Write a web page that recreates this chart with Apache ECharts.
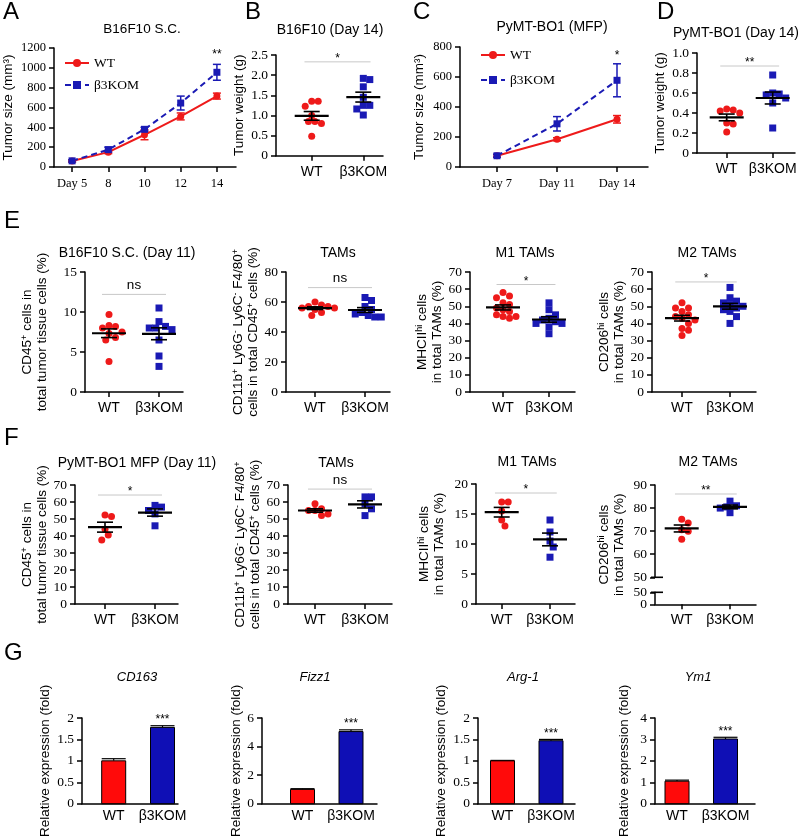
<!DOCTYPE html>
<html><head><meta charset="utf-8">
<script src="https://cdn.jsdelivr.net/npm/echarts@6/dist/echarts.min.js"></script>
<style>html,body{margin:0;padding:0;background:#fff}#c{width:800px;height:839px}</style>
</head><body><div id="c"></div>
<script>
// ================= DATA =================
const groups = ['WT', 'β3KOM'];
// A: B16F10 S.C. growth
const daysA = ['Day 5', '8', '10', '12', '14'];
const wtA = [60, 150, 325, 510, 715];
const wtAErr = [10, 15, 50, 35, 30];
const komA = [62, 175, 380, 645, 955];
const komAErr = [10, 25, 20, 70, 80];
const starA = ['**', 4, 1130];
// C: PyMT-BO1 (MFP) growth
const daysC = ['Day 7', 'Day 11', 'Day 14'];
const wtC = [75, 185, 318];
const wtCErr = [8, 10, 25];
const komC = [75, 288, 578];
const komCErr = [10, 48, 110];
const starC = ['*', 2, 740];
// B, D: tumor weights
const wtB = [1.35, 1.35, 1.23, 1.0, 0.85, 0.85, 0.8, 0.48];
const komB = [1.92, 1.89, 1.71, 1.45, 1.25, 1.25, 1.16, 1.01];
const wtD = [0.44, 0.43, 0.42, 0.40, 0.30, 0.29, 0.21];
const komD = [0.78, 0.60, 0.59, 0.58, 0.55, 0.50, 0.25];
// E: B16F10 flow
const wtE1 = [9.7, 8.3, 8.2, 8.0, 7.5, 7.3, 6.8, 6.5, 3.8];
const komE1 = [10.5, 8.8, 8.2, 8.0, 8.0, 7.8, 6.5, 4.5, 3.2];
const wtE2 = [60, 58, 57, 57, 56, 56, 55, 53, 51];
const komE2 = [63, 61, 57, 55, 53, 52, 51, 50, 50];
const wtE3 = [58, 56, 55, 52, 51, 49, 48, 47, 45, 44, 44, 43];
const komE3 = [52, 48, 45, 43, 42, 41, 40, 40, 38, 34];
const wtE4 = [52, 49, 49, 47, 45, 44, 43, 42, 40, 37, 36, 33];
const komE4 = [61, 55, 53, 52, 51, 50, 49, 48, 47, 44, 40];
// F: PyMT-BO1 flow
const wtF1 = [52.4, 51.4, 44, 40.6, 37.6];
const komF1 = [58, 57, 55, 53, 46];
const wtF2 = [59, 56, 55, 55, 53, 52];
const komF2 = [63, 63, 59, 56, 52];
const wtF3 = [17, 17, 15.5, 14, 13];
const komF3 = [14, 12, 10.5, 9.5, 7.8];
const wtF4 = [75.2, 73.5, 70.6, 70, 66.5];
const komF4 = [83, 81, 80.5, 80, 78];
const f4LowerTicks = [0, 50];
// significance: panel -> [text, level]
const sigB = ['*', 2.33], sigD = ['**', 0.87];
const sigE1 = ['ns', 12.2], sigE2 = ['ns', 69.6], sigE3 = ['*', 62.7], sigE4 = ['*', 64.2];
const sigF1 = ['*', 64.1], sigF2 = ['ns', 67.6], sigF3 = ['*', 18.5], sigF4 = ['**', 86.1];
// G: qPCR relative expression [WT, KOM]
const cd163 = [1.0, 1.78], cd163Err = [0.05, 0.04];
const fizz1 = [1.0, 5.05], fizz1Err = [0.05, 0.12];
const arg1 = [1.0, 1.47], arg1Err = [0.01, 0.03];
const ym1 = [1.05, 3.02], ym1Err = [0.05, 0.08];
const starG = '***';

// ================= STYLE / BUILD =================
const SANS = 'Liberation Sans, Arial, sans-serif';
const SERIF = 'Liberation Serif, Times New Roman, serif';
const RED = '#ee1a1a', BLUE = '#1a1ab4';
const BAR_RED = '#ff0a0a', BAR_BLUE = '#0f0fb5';
const RICH = { sup: { fontSize: 9, lineHeight: 9, verticalAlign: 'top', fontFamily: SANS, color: '#000' } };
const NAME_FS = 13.5, TICK_FS = 13.5, TITLE_FS = 14;
const fmt1 = v => v === 0 ? '0' : v.toFixed(1);
const fmtPlain = v => String(v);

const opt = { animation: false, backgroundColor: '#fff', grid: [], xAxis: [], yAxis: [], series: [], graphic: [], legend: [] };

function addGrid(L, R, top, bottom) {
  opt.grid.push({ left: L, top: top, width: R - L, height: bottom - top });
  return opt.grid.length - 1;
}
function textStyle(t, size, font, align) {
  return { text: t, fill: '#000', fontSize: size, fontFamily: font || SANS, align: align || 'center', verticalAlign: 'middle',
    textAlign: align || 'center', textVerticalAlign: 'middle' };
}
function txt(text, x, y, size, opts) {
  opts = opts || {};
  const st = textStyle(text, size, opts.font || SANS, opts.align);
  st.fontStyle = opts.italic ? 'italic' : 'normal';
  opt.graphic.push({ type: 'text', x: x, y: y, silent: true, z: 100, style: st });
}
function nameStyle() {
  return { color: '#000', fontFamily: SANS, fontSize: NAME_FS, lineHeight: 15, rich: RICH };
}
function yAxisCfg(gi, c) {
  return { type: 'value', gridIndex: gi, min: c.ymin, max: c.ymax, interval: c.yint,
    splitLine: { show: false },
    axisLine: { show: true, onZero: false, lineStyle: { color: '#000', width: 1.5 } },
    axisTick: { show: true, length: 5, lineStyle: { color: '#000', width: 1.5 } },
    axisLabel: { show: !c.hideLabels, color: '#000', fontFamily: SERIF, fontSize: c.yfs || TICK_FS, margin: 8,
      formatter: c.yfmt || fmtPlain, showMinLabel: true, showMaxLabel: true, hideOverlap: false },
    name: c.name || '', nameLocation: 'middle', nameRotate: 90, nameGap: c.nameGap || 20,
    nameTextStyle: nameStyle() };
}
function xGroupAxis(gi, xmin, xmax, ticks, margin, hide) {
  return { type: 'value', gridIndex: gi, min: xmin, max: xmax, show: !hide, splitLine: { show: false },
    axisLine: { show: true, onZero: false, lineStyle: { color: '#000', width: 1.5 } },
    axisTick: { show: ticks, customValues: [1, 2], length: 5, lineStyle: { color: '#000', width: 1.5 } },
    axisLabel: { customValues: [1, 2], formatter: v => groups[Math.round(v) - 1], color: '#000', fontFamily: SANS, fontSize: 14, margin: margin } };
}
function swarm(values, center, ymin, pxPerY, unitPx, d) {
  const order = values.map((v, i) => i).sort((a, b) => values[b] - values[a]);
  const placed = [], out = [];
  for (const i of order) {
    const py = (values[i] - ymin) * pxPerY;
    let px = 0;
    for (let n = 0; n < 60; n++) {
      const off = n === 0 ? 0 : (n % 2 ? 1 : -1) * Math.ceil(n / 2) * d / 2;
      if (placed.every(p => Math.hypot(p[0] - off, p[1] - py) >= d)) { px = off; break; }
    }
    placed.push([px, py]);
    out.push([center + px / unitPx, values[i]]);
  }
  return out;
}
function meanSem(a) {
  const n = a.length, m = a.reduce((s, v) => s + v, 0) / n;
  const sd = Math.sqrt(a.reduce((s, v) => s + (v - m) * (v - m), 0) / (n - 1));
  return [m, sd / Math.sqrt(n)];
}
function meanSemSeries(gi, data) {
  return { type: 'custom', xAxisIndex: gi, yAxisIndex: gi, silent: true, clip: false, z: 5, data: data,
    renderItem: (p, api) => {
      const x = api.value(0), m = api.value(1), s = api.value(2);
      const pm = api.coord([x, m]), pt = api.coord([x, m + s]), pb = api.coord([x, m - s]);
      const st = { stroke: '#000', lineWidth: 2.2 };
      const thin = { stroke: '#000', lineWidth: 1.6 };
      return { type: 'group', children: [
        { type: 'line', shape: { x1: pm[0] - 17, y1: pm[1], x2: pm[0] + 17, y2: pm[1] }, style: st },
        { type: 'line', shape: { x1: pt[0], y1: pt[1], x2: pb[0], y2: pb[1] }, style: thin },
        { type: 'line', shape: { x1: pt[0] - 8, y1: pt[1], x2: pt[0] + 8, y2: pt[1] }, style: thin },
        { type: 'line', shape: { x1: pb[0] - 8, y1: pb[1], x2: pb[0] + 8, y2: pb[1] }, style: thin }
      ] };
    } };
}
function sigSeries(gi, sig) {
  const t = sig[0], isNs = t === 'ns';
  return { type: 'custom', xAxisIndex: gi, yAxisIndex: gi, silent: true, clip: false, z: 4, data: [[0.86, 2.14, sig[1]]],
    renderItem: (p, api) => {
      const a = api.coord([api.value(0), api.value(2)]), b = api.coord([api.value(1), api.value(2)]);
      return { type: 'group', children: [
        { type: 'line', shape: { x1: a[0], y1: a[1], x2: b[0], y2: b[1] }, style: { stroke: '#c8c8c8', lineWidth: 1 } },
        { type: 'text', x: (a[0] + b[0]) / 2, y: a[1] - (isNs ? 9 : 3), style: textStyle(t, isNs ? 13.5 : 12) }
      ] };
    } };
}
function scatterPanel(c) {
  const u = c.komX - c.wtX;
  const xmin = 1 - (c.wtX - c.L) / u, xmax = 2 + (c.R - c.komX) / u;
  const gi = addGrid(c.L, c.R, c.top, c.bottom);
  opt.xAxis.push(xGroupAxis(gi, xmin, xmax, true, c.xMargin || 9, c.hideX));
  opt.yAxis.push(yAxisCfg(gi, c));
  const pxPerY = (c.bottom - c.top) / (c.ymax - c.ymin);
  opt.series.push({ type: 'scatter', name: 'pts-wt', xAxisIndex: gi, yAxisIndex: gi, symbol: 'circle', symbolSize: 7,
    itemStyle: { color: RED, opacity: 1 }, data: swarm(c.wt, 1, c.ymin, pxPerY, u, 6.5) });
  opt.series.push({ type: 'scatter', name: 'pts-kom', xAxisIndex: gi, yAxisIndex: gi, symbol: 'rect', symbolSize: 7,
    itemStyle: { color: BLUE, opacity: 1 }, data: swarm(c.kom, 2, c.ymin, pxPerY, u, 6.5) });
  opt.series.push(meanSemSeries(gi, [[1].concat(meanSem(c.wt)), [2].concat(meanSem(c.kom))]));
  opt.series.push(sigSeries(gi, c.sig));
  txt(c.title, c.tx, c.ty, TITLE_FS);
  return { gi, xmin, xmax };
}
function errSeries(gi, means, errs, color) {
  return { type: 'custom', xAxisIndex: gi, yAxisIndex: gi, silent: true, clip: false, z: 3,
    data: means.map((m, i) => [i, m, errs[i]]),
    renderItem: (p, api) => {
      const x = api.value(0), m = api.value(1), e = api.value(2);
      const t = api.coord([x, m + e]), b = api.coord([x, m - e]);
      const st = { stroke: color, lineWidth: 1.5 };
      return { type: 'group', children: [
        { type: 'line', shape: { x1: t[0], y1: t[1], x2: b[0], y2: b[1] }, style: st },
        { type: 'line', shape: { x1: t[0] - 4, y1: t[1], x2: t[0] + 4, y2: t[1] }, style: st },
        { type: 'line', shape: { x1: b[0] - 4, y1: b[1], x2: b[0] + 4, y2: b[1] }, style: st }
      ] };
    } };
}
function starSeries(gi, star, size) {
  return { type: 'custom', xAxisIndex: gi, yAxisIndex: gi, silent: true, clip: false, data: [[star[1], star[2]]],
    renderItem: (p, api) => {
      const c = api.coord([api.value(0), api.value(1)]);
      return { type: 'text', x: c[0], y: c[1], style: textStyle(star[0], size) };
    } };
}
function breakCap(gi, xAt, yAt) {
  return { type: 'custom', xAxisIndex: gi, yAxisIndex: gi, silent: true, clip: false, data: [[xAt, yAt]],
    renderItem: (p, api) => {
      const c = api.coord([api.value(0), api.value(1)]);
      return { type: 'line', shape: { x1: c[0] - 4, y1: c[1], x2: c[0] + 8, y2: c[1] }, style: { stroke: '#000', lineWidth: 1.6 } };
    } };
}
function linePanel(c) {
  const n = c.cats.length;
  const u = (c.lastX - c.firstX) / (n - 1);
  const xmin = -(c.firstX - c.L) / u, xmax = (n - 1) + (c.R - c.lastX) / u;
  const gi = addGrid(c.L, c.R, c.top, c.bottom);
  const idx = c.cats.map((_, i) => i);
  opt.xAxis.push({ type: 'value', gridIndex: gi, min: xmin, max: xmax, splitLine: { show: false },
    axisLine: { show: true, onZero: false, lineStyle: { color: '#000', width: 1.5 } },
    axisTick: { customValues: idx, length: 5, lineStyle: { color: '#000', width: 1.5 } },
    axisLabel: { customValues: idx, formatter: v => c.cats[Math.round(v)], color: '#000', fontFamily: SERIF, fontSize: 12.5, margin: 10 } });
  opt.yAxis.push(yAxisCfg(gi, c));
  opt.series.push(errSeries(gi, c.wt, c.wtErr, RED));
  opt.series.push(errSeries(gi, c.kom, c.komErr, BLUE));
  opt.series.push({ type: 'line', name: 'WT', xAxisIndex: gi, yAxisIndex: gi, data: c.wt.map((v, i) => [i, v]),
    symbol: 'circle', symbolSize: 7, lineStyle: { color: RED, width: 2 }, itemStyle: { color: RED }, z: 4 });
  opt.series.push({ type: 'line', name: 'β3KOM', xAxisIndex: gi, yAxisIndex: gi, data: c.kom.map((v, i) => [i, v]),
    symbol: 'rect', symbolSize: 7, lineStyle: { color: BLUE, width: 2, type: [6, 4] }, itemStyle: { color: BLUE }, z: 4 });
  opt.series.push(starSeries(gi, c.star, 12));
  opt.legend.push({ data: ['WT', 'β3KOM'], orient: 'vertical', left: c.legL, top: c.legT, padding: 0,
    itemWidth: 24, itemHeight: 10, itemGap: c.legGap, selectedMode: false,
    textStyle: { fontFamily: SERIF, fontSize: 13.5, color: '#000' } });
  txt(c.title, c.tx, c.ty, c.tfs || TITLE_FS);
}
function barPanel(c) {
  const u = c.komX - c.wtX;
  const xmin = 1 - (c.wtX - c.L) / u, xmax = 2 + (c.R - c.komX) / u;
  const gi = addGrid(c.L, c.R, c.top, c.bottom);
  opt.xAxis.push(xGroupAxis(gi, xmin, xmax, false, 5, false));
  opt.yAxis.push(yAxisCfg(gi, c));
  opt.series.push({ type: 'custom', xAxisIndex: gi, yAxisIndex: gi, silent: true, clip: false,
    data: c.vals.map((v, i) => [i + 1, v, c.errs[i]]),
    renderItem: (p, api) => {
      const x = api.value(0), v = api.value(1), e = api.value(2);
      const p0 = api.coord([x, 0]), p1 = api.coord([x, v]), pe = api.coord([x, v + e]);
      const col = p.dataIndex === 0 ? BAR_RED : BAR_BLUE;
      const kids = [
        { type: 'line', shape: { x1: p1[0], y1: p1[1], x2: pe[0], y2: pe[1] }, style: { stroke: '#000', lineWidth: 1.2 } },
        { type: 'line', shape: { x1: pe[0] - 12, y1: pe[1], x2: pe[0] + 12, y2: pe[1] }, style: { stroke: '#000', lineWidth: 1.2 } },
        { type: 'rect', shape: { x: p1[0] - 12, y: p1[1], width: 24, height: p0[1] - p1[1] }, style: { fill: col, stroke: '#000', lineWidth: 1 } }
      ];
      if (p.dataIndex === 1) kids.push({ type: 'text', x: pe[0], y: pe[1] - 6, style: textStyle(starG, 12) });
      return { type: 'group', children: kids };
    } });
  txt(c.title, c.tx, c.ty, 13, { italic: true });
}

// ---------- panels ----------
linePanel({ L: 53, R: 236, top: 48, bottom: 167, firstX: 71.2, lastX: 216.8, cats: daysA,
  ymin: 0, ymax: 1200, yint: 200, yfs: 12.5, name: 'Tumor size (mm³)', nameGap: 38,
  wt: wtA, wtErr: wtAErr, kom: komA, komErr: komAErr, star: starA,
  legL: 64, legT: 56, legGap: 8, title: 'B16F10 S.C.', tfs: 13.5, tx: 142, ty: 29 });
linePanel({ L: 460, R: 648, top: 47, bottom: 167, firstX: 497, lastX: 617, cats: daysC,
  ymin: 0, ymax: 800, yint: 200, yfs: 12.5, name: 'Tumor size (mm³)', nameGap: 33,
  wt: wtC, wtErr: wtCErr, kom: komC, komErr: komCErr, star: starC,
  legL: 480, legT: 48, legGap: 11, title: 'PyMT-BO1 (MFP)', tx: 552, ty: 27 });
scatterPanel({ L: 276, R: 383, top: 55, bottom: 155.7, wtX: 311.7, komX: 363.3, ymin: 0, ymax: 2.5, yint: 0.5, yfmt: fmt1,
  name: 'Tumor weight (g)', nameGap: 17, wt: wtB, kom: komB, sig: sigB, title: 'B16F10 (Day 14)', tx: 330, ty: 30 });
scatterPanel({ L: 697, R: 795, top: 53, bottom: 153, wtX: 726.7, komX: 772.7, ymin: 0, ymax: 1.0, yint: 0.2, yfmt: fmt1,
  name: 'Tumor weight (g)', nameGap: 27, wt: wtD, kom: komD, sig: sigD, title: 'PyMT-BO1 (Day 14)', tx: 736, ty: 33 });

const nmCD45 = 'CD45{sup|+} cells in\ntotal tumor tissue cells (%)';
const nmTAM = 'CD11b{sup|+} Ly6G{sup|-} Ly6C{sup|-} F4/80{sup|+}\ncells in total CD45{sup|+} cells (%)';
const nmM1 = 'MHCII{sup|hi} cells\nin total TAMs (%)';
const nmM2 = 'CD206{sup|hi} cells\nin total TAMs (%)';

scatterPanel({ L: 85, R: 183, top: 272, bottom: 392, wtX: 109, komX: 159, ymin: 0, ymax: 15, yint: 5,
  name: nmCD45, nameGap: 35, wt: wtE1, kom: komE1, sig: sigE1, title: 'B16F10 S.C. (Day 11)', tx: 127, ty: 253 });
scatterPanel({ L: 286, R: 390, top: 272, bottom: 392, wtX: 315, komX: 365, ymin: 0, ymax: 80, yint: 20,
  name: nmTAM, nameGap: 23, wt: wtE2, kom: komE2, sig: sigE2, title: 'TAMs', tx: 338, ty: 253 });
scatterPanel({ L: 470, R: 575, top: 272, bottom: 392, wtX: 503, komX: 549, ymin: 0, ymax: 70, yint: 10,
  name: nmM1, nameGap: 25, wt: wtE3, kom: komE3, sig: sigE3, title: 'M1 TAMs', tx: 525, ty: 253 });
scatterPanel({ L: 652, R: 756, top: 272, bottom: 392, wtX: 682, komX: 730, ymin: 0, ymax: 70, yint: 10,
  name: nmM2, nameGap: 25, wt: wtE4, kom: komE4, sig: sigE4, title: 'M2 TAMs', tx: 707, ty: 253 });

scatterPanel({ L: 75, R: 178, top: 485, bottom: 604, wtX: 105, komX: 155, ymin: 0, ymax: 70, yint: 10,
  name: nmCD45, nameGap: 22, wt: wtF1, kom: komF1, sig: sigF1, title: 'PyMT-BO1 MFP (Day 11)', tx: 137, ty: 463 });
scatterPanel({ L: 288, R: 392, top: 485, bottom: 604, wtX: 315, komX: 365, ymin: 0, ymax: 70, yint: 10,
  name: nmTAM, nameGap: 25, wt: wtF2, kom: komF2, sig: sigF2, title: 'TAMs', tx: 336, ty: 463 });
scatterPanel({ L: 476, R: 575, top: 484, bottom: 604, wtX: 501.7, komX: 550, ymin: 0, ymax: 20, yint: 5,
  name: nmM1, nameGap: 29, wt: wtF3, kom: komF3, sig: sigF3, title: 'M1 TAMs', tx: 527, ty: 462 });
// F4 broken axis: upper segment (50-90), lower (0-50), plus a name-only axis
const f4 = scatterPanel({ L: 655, R: 756, top: 485, bottom: 577.3, wtX: 681.7, komX: 730, ymin: 50, ymax: 90, yint: 10,
  name: '', hideX: true, wt: wtF4, kom: komF4, sig: sigF4, title: 'M2 TAMs', tx: 708, ty: 462 });
opt.series.push(breakCap(f4.gi, f4.xmin, 50));
const LOW = { L: 655, R: 756, top: 592.3, bottom: 604.3, ymin: 0, ymax: 50 };
const f4Low = addGrid(LOW.L, LOW.R, LOW.top, LOW.bottom);
opt.xAxis.push(xGroupAxis(f4Low, f4.xmin, f4.xmax, true, 9, false));
opt.yAxis.push(yAxisCfg(f4Low, { ymin: LOW.ymin, ymax: LOW.ymax, yint: 50, hideLabels: true }));
opt.series.push(breakCap(f4Low, f4.xmin, 50));
// labels of the short lower segment (the axis drops them as overlapping), mapped linearly on that segment
f4LowerTicks.forEach(v => {
  const y = LOW.bottom - (v - LOW.ymin) / (LOW.ymax - LOW.ymin) * (LOW.bottom - LOW.top);
  txt(String(v), LOW.L - 8, y, TICK_FS, { align: 'right', font: SERIF });
});
const f4Name = addGrid(655, 756, 485, 604.3);
opt.xAxis.push({ type: 'value', gridIndex: f4Name, min: 0, max: 1, show: false });
opt.yAxis.push({ type: 'value', gridIndex: f4Name, min: 0, max: 1, axisLine: { show: false }, axisTick: { show: false },
  axisLabel: { show: false }, splitLine: { show: false },
  name: nmM2, nameLocation: 'middle', nameRotate: 90, nameGap: 28, nameTextStyle: nameStyle() });

barPanel({ L: 82, R: 178, top: 718, bottom: 818, wtX: 113.7, komX: 162.5, ymin: 0, ymax: 2, yint: 0.5,
  name: 'Relative expression (fold)', nameGap: 22, vals: cd163, errs: cd163Err, title: 'CD163', tx: 137, ty: 677 });
barPanel({ L: 262, R: 377, top: 718, bottom: 818, wtX: 302.5, komX: 351, ymin: 0, ymax: 6, yint: 2,
  name: 'Relative expression (fold)', nameGap: 12, vals: fizz1, errs: fizz1Err, title: 'Fizz1', tx: 315, ty: 677 });
barPanel({ L: 478, R: 575, top: 718, bottom: 818, wtX: 502.5, komX: 551, ymin: 0, ymax: 2, yint: 0.5,
  name: 'Relative expression (fold)', nameGap: 26, vals: arg1, errs: arg1Err, title: 'Arg-1', tx: 523, ty: 677 });
barPanel({ L: 655, R: 755, top: 718, bottom: 818, wtX: 677, komX: 725.5, ymin: 0, ymax: 4, yint: 1,
  name: 'Relative expression (fold)', nameGap: 23, vals: ym1, errs: ym1Err, title: 'Ym1', tx: 698, ty: 677 });

// panel letters
[['A', 3, 12], ['B', 245, 12], ['C', 413, 12], ['D', 657, 12], ['E', 4, 221], ['F', 4, 438], ['G', 4, 653]]
  .forEach(l => txt(l[0], l[1], l[2], 24, { align: 'left' }));

const chart = echarts.init(document.getElementById('c'));
chart.setOption(opt);
</script></body></html>
